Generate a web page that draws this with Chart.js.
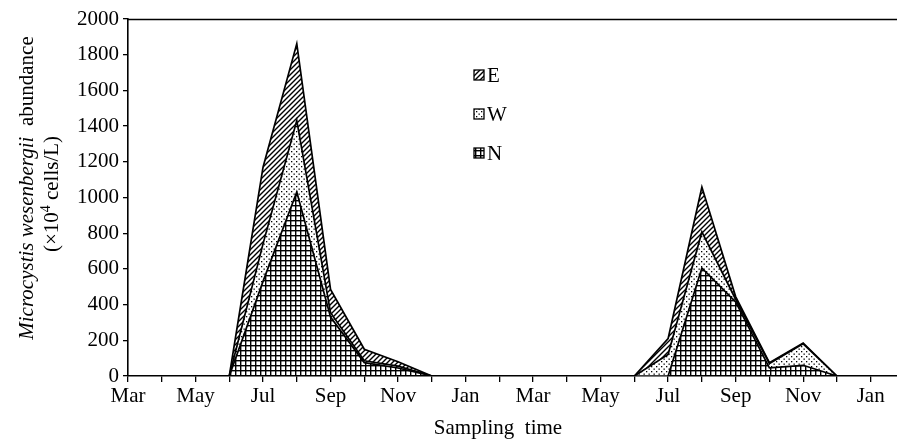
<!DOCTYPE html>
<html>
<head>
<meta charset="utf-8">
<script src="https://cdn.jsdelivr.net/npm/chart.js@4.4.1/dist/chart.umd.min.js"></script>
<style>
  html, body { margin: 0; padding: 0; background: #fff; overflow: hidden; }
  #wrap { width: 897px; height: 441px; }
</style>
</head>
<body>
<div id="wrap"><canvas id="chart" width="897" height="441"></canvas></div>
<script>
// month labels, one per sampling month (Mar .. Jan of the following year, twice)
const months = ['Mar','Apr','May','Jun','Jul','Aug','Sep','Oct','Nov','Dec','Jan','Feb',
                'Mar','Apr','May','Jun','Jul','Aug','Sep','Oct','Nov','Dec','Jan'];
// only every second month is labelled
const tickLabels = ['Mar','','May','','Jul','','Sep','','Nov','','Jan','',
                    'Mar','','May','','Jul','','Sep','','Nov','','Jan'];

// abundance (x10^4 cells/L), stacked N -> W -> E
const valuesN = [0,0,0,0,530,1031,330,75,45,0,0,0, 0,0,0,0,0,605,415,45,60,0,0];
const valuesW = [0,0,0,0,210,400,25,10,10,0,0,0, 0,0,0,0,120,202,15,25,120,0,0];
const valuesE = [0,0,0,0,430,431,130,65,25,0,0,0, 0,0,0,0,90,252,15,5,5,0,0];

const yTicks = [0,200,400,600,800,1000,1200,1400,1600,1800,2000];

const SERIF = '"Liberation Serif", "DejaVu Serif", serif';

function makePattern(kind) {
    const c = document.createElement('canvas');
    const ctx = c.getContext('2d');
    if (kind === 'hatch') {
        c.width = 5; c.height = 5;
        ctx.fillStyle = '#fff'; ctx.fillRect(0, 0, 5, 5);
        ctx.strokeStyle = '#000'; ctx.lineWidth = 1.4;
        ctx.beginPath();
        ctx.moveTo(-1, 6); ctx.lineTo(6, -1);
        ctx.moveTo(-1, 1); ctx.lineTo(1, -1);
        ctx.moveTo(4, 6); ctx.lineTo(6, 4);
        ctx.stroke();
    } else if (kind === 'dots') {
        c.width = 5; c.height = 5;
        ctx.fillStyle = '#fff'; ctx.fillRect(0, 0, 5, 5);
        ctx.fillStyle = '#000';
        ctx.fillRect(1, 1, 1.3, 1.3);
        ctx.fillRect(3.5, 3.5, 1.3, 1.3);
    } else {
        c.width = 5; c.height = 5;
        ctx.fillStyle = '#fff'; ctx.fillRect(0, 0, 5, 5);
        ctx.fillStyle = '#000';
        ctx.fillRect(0, 0, 5, 1.4);
        ctx.fillRect(0, 0, 1.4, 5);
    }
    return document.createElement('canvas').getContext('2d').createPattern(c, 'repeat');
}

const patE = makePattern('hatch');
const patW = makePattern('dots');
const patN = makePattern('grid');

function toPoints(arr) {
    return arr.map((v, i) => ({ x: i, y: v }));
}

// legend, axis titles and top frame line
const extras = {
    id: 'extras',
    afterDraw(chart) {
        const ctx = chart.ctx;
        const area = chart.chartArea;
        ctx.save();

        // top frame
        ctx.strokeStyle = '#000';
        ctx.lineWidth = 1.5;
        ctx.beginPath();
        ctx.moveTo(area.left, area.top + 0.5);
        ctx.lineTo(chart.width, area.top + 0.5);
        ctx.stroke();

        // legend
        const items = [['E', patE, 75], ['W', patW, 114], ['N', patN, 153]];
        ctx.font = '21px ' + SERIF;
        ctx.textBaseline = 'middle';
        ctx.textAlign = 'left';
        items.forEach(function(it) {
            ctx.fillStyle = it[1];
            ctx.fillRect(474, it[2] - 5, 10, 10);
            ctx.lineWidth = 1.3;
            ctx.strokeRect(474, it[2] - 5, 10, 10);
            ctx.fillStyle = '#000';
            ctx.fillText(it[0], 487, it[2] + 1);
        });

        // x title
        ctx.textAlign = 'center';
        ctx.fillText('Sampling  time', 498, 428);

        // y title (rotated, mixed italic)
        ctx.translate(27, 188);
        ctx.rotate(-Math.PI / 2);
        const fi = 'italic 21px ' + SERIF;
        const fn = '21px ' + SERIF;
        const p1 = 'Microcystis wesenbergii';
        const p2 = '  abundance';
        ctx.font = fi; const w1 = ctx.measureText(p1).width;
        ctx.font = fn; const w2 = ctx.measureText(p2).width;
        let x0 = -(w1 + w2) / 2;
        ctx.textAlign = 'left';
        ctx.font = fi; ctx.fillText(p1, x0, 0);
        ctx.font = fn; ctx.fillText(p2, x0 + w1, 0);

        const a = '(\u00d710';
        const b = '4';
        const c = ' cells/L)';
        ctx.font = fn; const wa = ctx.measureText(a).width;
        ctx.font = '14px ' + SERIF; const wb = ctx.measureText(b).width;
        ctx.font = fn; const wc = ctx.measureText(c).width;
        x0 = -(wa + wb + wc) / 2 - 6;
        ctx.font = fn; ctx.fillText(a, x0, 25);
        ctx.font = '14px ' + SERIF; ctx.fillText(b, x0 + wa, 19);
        ctx.font = fn; ctx.fillText(c, x0 + wa + wb, 25);

        ctx.restore();
    }
};

const ctx = document.getElementById('chart').getContext('2d');
new Chart(ctx, {
    type: 'line',
    data: {
        datasets: [
            { label: 'N', data: toPoints(valuesN), backgroundColor: patN, fill: 'origin' },
            { label: 'W', data: toPoints(valuesW), backgroundColor: patW, fill: '-1' },
            { label: 'E', data: toPoints(valuesE), backgroundColor: patE, fill: '-1' }
        ]
    },
    options: {
        responsive: false,
        devicePixelRatio: 1,
        animation: false,
        layout: { padding: { top: 19, left: 0, right: 0, bottom: 0 } },
        elements: {
            line: { borderColor: '#000', borderWidth: 1.7, tension: 0 },
            point: { radius: 0 }
        },
        plugins: {
            legend: { display: false },
            tooltip: { enabled: false }
        },
        scales: {
            x: {
                type: 'linear',
                min: 0,
                max: 22.78,
                afterBuildTicks: function(axis) {
                    axis.ticks = months.map((m, i) => ({ value: i }));
                },
                afterFit: function(axis) { axis.height = 65; },
                grid: { drawOnChartArea: false, drawTicks: true, tickLength: 6, color: '#000', lineWidth: 1.3 },
                border: { color: '#000', width: 1.6 },
                ticks: {
                    autoSkip: false,
                    maxRotation: 0,
                    padding: 2,
                    color: '#000',
                    font: { family: SERIF, size: 21 },
                    callback: function(value) { return tickLabels[value] || ''; }
                }
            },
            y: {
                stacked: true,
                min: 0,
                max: 2000,
                afterBuildTicks: function(axis) {
                    axis.ticks = yTicks.map(v => ({ value: v }));
                },
                afterFit: function(axis) { axis.width = 128; },
                grid: { drawOnChartArea: false, drawTicks: true, tickLength: 5, color: '#000', lineWidth: 1.3 },
                border: { color: '#000', width: 1.6 },
                ticks: {
                    padding: 4,
                    color: '#000',
                    font: { family: SERIF, size: 21 },
                    callback: function(value) { return String(value); }
                }
            }
        }
    },
    plugins: [extras]
});
</script>
</body>
</html>
